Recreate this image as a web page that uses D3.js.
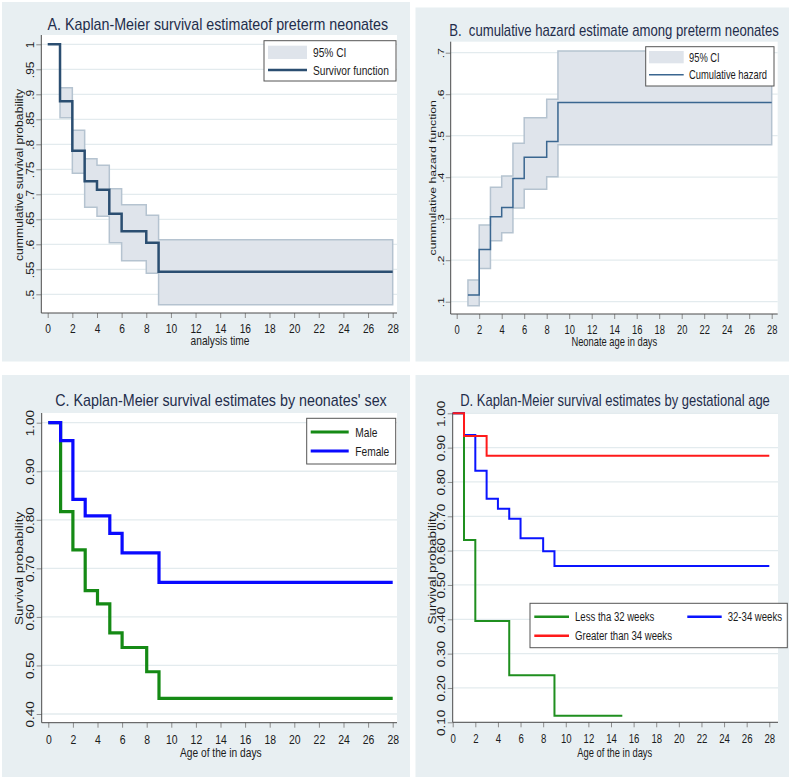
<!DOCTYPE html>
<html><head><meta charset="utf-8">
<script src="https://cdn.jsdelivr.net/npm/d3@7"></script>
<style>body{margin:0;background:#fff} text{font-family:"Liberation Sans",Arial,sans-serif}</style>
</head><body><svg id="c" width="789" height="779"></svg>
<script>
// ---------- data ----------
const xTicks = [0,2,4,6,8,10,12,14,16,18,20,22,24,26,28];

// Panel A: Kaplan-Meier overall
const aTimes = [0,1,2,3,4,5,6,8,9];
const aSurv  = [1.000,0.886,0.787,0.726,0.709,0.661,0.626,0.603,0.545];
const aCiTimes = [1,2,3,4,5,6,8,9];
const aCiUpper = [0.913,0.828,0.771,0.758,0.711,0.679,0.658,0.609];
const aCiLower = [0.853,0.742,0.674,0.656,0.603,0.567,0.542,0.479];
const aYTicks  = [0.5,0.55,0.6,0.65,0.7,0.75,0.8,0.85,0.9,0.95,1];
const aYLabels = [".5",".55",".6",".65",".7",".75",".8",".85",".9",".95","1"];

// Panel B: cumulative hazard
const bTimes = [1,2,3,4,5,6,8,9];
const bHaz   = [0.116,0.226,0.305,0.327,0.397,0.448,0.486,0.580];
const bUpper = [0.152,0.285,0.376,0.403,0.482,0.543,0.588,0.704];
const bLower = [0.090,0.180,0.247,0.266,0.326,0.371,0.401,0.478];
const bYTicks  = [0.1,0.2,0.3,0.4,0.5,0.6,0.7];
const bYLabels = [".1",".2",".3",".4",".5",".6",".7"];

// Panel C: by sex
const maleTimes   = [0,1,2,3,4,5,6,8,9];
const maleSurv    = [1.000,0.817,0.738,0.654,0.627,0.567,0.537,0.487,0.432];
const femaleTimes = [0,1,2,3,5,6,9];
const femaleSurv  = [1.000,0.963,0.842,0.808,0.772,0.732,0.671];
const cYTicks  = [0.4,0.5,0.6,0.7,0.8,0.9,1.0];
const cYLabels = ["0.40","0.50","0.60","0.70","0.80","0.90","1.00"];

// Panel D: by gestational age
const lt32Times = [0,1,2,5,9];
const lt32Surv  = [1.000,0.631,0.395,0.237,0.119];
const lt32End   = 15;
const midTimes  = [0,1,2,3,4,5,6,8,9];
const midSurv   = [1.000,0.937,0.833,0.751,0.722,0.693,0.636,0.598,0.555];
const gt34Times = [0,1,3];
const gt34Surv  = [1.000,0.934,0.876];
const dYTicks  = [0.1,0.2,0.3,0.4,0.5,0.6,0.7,0.8,0.9,1.0];
const dYLabels = ["0.10","0.20","0.30","0.40","0.50","0.60","0.70","0.80","0.90","1.00"];

// ---------- style ----------
const PANEL_BG = "#e8eff2", GRID = "#e3ebee", AXIS = "#4a4a4a", TICK = "#8c8c8c";
const TXT = "#1b1b1b", TITLE = "#1f2d4b";
const CI_FILL = "#dfe4eb", CI_STROKE = "#b5c3d0";

const svg = d3.select("#c");

function stepPts(times, vals, end){
  const p = times.map((t,i)=>[t, vals[i]]);
  p.push([end, vals[vals.length-1]]);
  return p;
}
function sText(g, x, y, s, k, size, anchor, rot){
  return g.append("text")
    .attr("transform", `translate(${x},${y}) scale(${k},1)${rot?" rotate(-90)":""}`)
    .attr("text-anchor", anchor || "start")
    .style("font-size", size + "px")
    .style("white-space","pre")
    .attr("fill", TXT).text(s);
}
function fitTitle(g, cx, by, s, len){
  const t = g.append("text").attr("text-anchor","middle")
    .style("font-size","16px").style("white-space","pre").attr("fill",TITLE).text(s);
  const w = t.node().getComputedTextLength();
  t.attr("transform", `translate(${cx},${by}) scale(${len/w},1)`);
  return t;
}

function panel(cfg){
  const g = svg.append("g");
  const [bx0,by0,bx1,by1] = cfg.bg;
  g.append("rect").attr("x",bx0).attr("y",by0).attr("width",bx1-bx0).attr("height",by1-by0).attr("fill",PANEL_BG);
  const {l,t,r,b} = cfg.plot;
  g.append("rect").attr("x",l).attr("y",t).attr("width",r-l).attr("height",b-t).attr("fill","#fff");
  const x = d3.scaleLinear().domain([0,28]).range(cfg.xr);
  const y = d3.scaleLinear().domain(cfg.yd).range(cfg.yr);
  // grid
  g.append("g").selectAll("line").data(cfg.yTicks).join("line")
    .attr("x1",l).attr("x2",r).attr("y1",d=>y(d)).attr("y2",d=>y(d))
    .attr("stroke",GRID).attr("stroke-width",1.3);
  // x axis
  const gx = g.append("g").attr("transform",`translate(0,${b})`)
    .call(d3.axisBottom(x).tickValues(xTicks).tickSize(5).tickSizeOuter(0));
  gx.select(".domain").remove();
  gx.selectAll("line").attr("stroke",TICK);
  gx.selectAll("text").attr("y",0).attr("dy",0)
    .attr("transform",`translate(0,${cfg.xLabY-b}) scale(${cfg.k},1)`)
    .style("font-size",cfg.xFont+"px").style("font-family",'"Liberation Sans",Arial,sans-serif').attr("fill",TXT);
  // y axis
  const gy = g.append("g").attr("transform",`translate(${l},0)`)
    .call(d3.axisLeft(y).tickValues(cfg.yTicks).tickFormat(d=>cfg.yLabels[cfg.yTicks.indexOf(d)]).tickSize(5).tickSizeOuter(0));
  gy.select(".domain").remove();
  gy.selectAll("line").attr("stroke",TICK);
  gy.selectAll("text").attr("x",0).attr("dy",0).attr("text-anchor","middle")
    .attr("transform",`translate(${cfg.yLabX-l},0) scale(${cfg.k},1) rotate(-90)`)
    .style("font-size",cfg.yFont+"px").style("font-family",'"Liberation Sans",Arial,sans-serif').attr("fill",TXT);
  // frame lines
  g.append("line").attr("x1",l).attr("x2",l).attr("y1",t).attr("y2",b).attr("stroke",AXIS).attr("stroke-width",1);
  g.append("line").attr("x1",l).attr("x2",r).attr("y1",b).attr("y2",b).attr("stroke",AXIS).attr("stroke-width",1);
  // titles
  fitTitle(g, cfg.title.cx, cfg.title.by, cfg.title.text, cfg.title.len);
  sText(g, cfg.xTitle.cx, cfg.xTitle.by, cfg.xTitle.text, cfg.k, 12, "middle");
  sText(g, cfg.yTitle.bx, cfg.yTitle.cy, cfg.yTitle.text, cfg.k, cfg.yTitle.size, "middle", true);
  return {g,x,y};
}

const lineStep = (x,y) => d3.line().x(d=>x(d[0])).y(d=>y(d[1])).curve(d3.curveStepAfter);

// ---------- Panel A ----------
{
  const {g,x,y} = panel({
    bg:[2,2,410,361.5], plot:{l:41.3,t:35,r:397,b:313},
    xr:[47.7,392.7], yd:[0.5,1], yr:[294.3,44.3], k:0.85,
    yTicks:aYTicks, yLabels:aYLabels, xLabY:332.5, yLabX:33.5, xFont:12, yFont:12,
    title:{text:"A. Kaplan-Meier survival estimateof preterm neonates", cx:217.8, by:30, len:341},
    xTitle:{text:"analysis time", cx:220, by:344.5},
    yTitle:{text:"cummulative survival probability", cy:175, bx:23, size:12.2}
  });
  const ci = aCiTimes.map((t,i)=>({t, lo:aCiLower[i], hi:aCiUpper[i]}));
  ci.push({t:28, lo:aCiLower[aCiLower.length-1], hi:aCiUpper[aCiUpper.length-1]});
  g.append("path").datum(ci)
    .attr("d", d3.area().x(d=>x(d.t)).y0(d=>y(d.lo)).y1(d=>y(d.hi)).curve(d3.curveStepAfter))
    .attr("fill",CI_FILL).attr("stroke",CI_STROKE).attr("stroke-width",1.5);
  g.append("path").datum(stepPts(aTimes,aSurv,28)).attr("d",lineStep(x,y))
    .attr("fill","none").attr("stroke","#2b4e71").attr("stroke-width",2.5);
  // legend
  const lg = g.append("g");
  lg.append("rect").attr("x",264).attr("y",40.7).attr("width",132).attr("height",40.3).attr("fill","#fff").attr("stroke","#555").attr("stroke-width",1);
  lg.append("rect").attr("x",268).attr("y",45.7).attr("width",39).attr("height",13.3).attr("fill",CI_FILL);
  sText(lg,313,56.5,"95% CI",0.85,12,"start");
  lg.append("line").attr("x1",268).attr("x2",307).attr("y1",70).attr("y2",70).attr("stroke","#2b4e71").attr("stroke-width",2.5);
  sText(lg,313,74.5,"Survivor function",0.85,12,"start");
}

// ---------- Panel B ----------
{
  const {g,x,y} = panel({
    bg:[415.5,7.5,789,361.5], plot:{l:450.7,t:41.7,r:777.7,b:314},
    xr:[456.7,771.7], yd:[0.1,0.7], yr:[301.7,52.7], k:0.78,
    yTicks:bYTicks, yLabels:bYLabels, xLabY:333.5, yLabX:443.5, xFont:12, yFont:12,
    title:{text:"B.  cumulative hazard estimate among preterm neonates", cx:614, by:35.5, len:330},
    xTitle:{text:"Neonate age in days", cx:614.3, by:345.5},
    yTitle:{text:"cummulative hazard function", cy:177.8, bx:436, size:12.2}
  });
  const ci = bTimes.map((t,i)=>({t, lo:bLower[i], hi:bUpper[i]}));
  ci.push({t:28, lo:bLower[bLower.length-1], hi:bUpper[bUpper.length-1]});
  g.append("path").datum(ci)
    .attr("d", d3.area().x(d=>x(d.t)).y0(d=>y(d.lo)).y1(d=>y(d.hi)).curve(d3.curveStepAfter))
    .attr("fill",CI_FILL).attr("stroke",CI_STROKE).attr("stroke-width",1.5);
  g.append("path").datum(stepPts(bTimes,bHaz,28)).attr("d",lineStep(x,y))
    .attr("fill","none").attr("stroke","#3a6690").attr("stroke-width",1.5);
  const lg = g.append("g");
  lg.append("rect").attr("x",645.7).attr("y",46.7).attr("width",128.3).attr("height",39.3).attr("fill","#fff").attr("stroke","#555").attr("stroke-width",1);
  lg.append("rect").attr("x",649).attr("y",51).attr("width",34.7).attr("height",12.3).attr("fill",CI_FILL);
  sText(lg,689,62,"95% CI",0.78,12,"start");
  lg.append("line").attr("x1",649).attr("x2",683.7).attr("y1",74.7).attr("y2",74.7).attr("stroke","#3a6690").attr("stroke-width",1.5);
  sText(lg,689,79,"Cumulative hazard",0.78,12,"start");
}

// ---------- Panel C ----------
{
  const {g,x,y} = panel({
    bg:[2,375,410,777], plot:{l:41.7,t:413,r:397,b:722.7},
    xr:[48.3,392.7], yd:[0.4,1], yr:[714,422.7], k:0.85,
    yTicks:cYTicks, yLabels:cYLabels, xLabY:744.3, yLabX:33.5, xFont:12.3, yFont:13.5,
    title:{text:"C. Kaplan-Meier survival estimates by neonates' sex", cx:221, by:406, len:332},
    xTitle:{text:"Age of the in days", cx:220.8, by:757},
    yTitle:{text:"Survival probability", cy:568.3, bx:23, size:13.5}
  });
  g.append("path").datum(stepPts(maleTimes,maleSurv,28)).attr("d",lineStep(x,y))
    .attr("fill","none").attr("stroke","#158a15").attr("stroke-width",3.2);
  g.append("path").datum(stepPts(femaleTimes,femaleSurv,28)).attr("d",lineStep(x,y))
    .attr("fill","none").attr("stroke","#0a0aff").attr("stroke-width",3.2);
  const lg = g.append("g");
  lg.append("rect").attr("x",306.7).attr("y",418.3).attr("width",89).attr("height",45.7).attr("fill","#fff").attr("stroke","#555").attr("stroke-width",1);
  lg.append("line").attr("x1",310.7).attr("x2",348.7).attr("y1",432).attr("y2",432).attr("stroke","#158a15").attr("stroke-width",3.2);
  sText(lg,355.3,436.5,"Male",0.85,12,"start");
  lg.append("line").attr("x1",310.7).attr("x2",348.7).attr("y1",451).attr("y2",451).attr("stroke","#0a0aff").attr("stroke-width",3.2);
  sText(lg,355.3,455.5,"Female",0.85,12,"start");
}

// ---------- Panel D ----------
{
  const {g,x,y} = panel({
    bg:[415.5,375,789,777], plot:{l:452.7,t:413,r:778,b:722.3},
    xr:[452.7,769.3], yd:[0.1,1], yr:[722.3,413.3], k:0.78,
    yTicks:dYTicks, yLabels:dYLabels, xLabY:743.3, yLabX:445, xFont:12.3, yFont:13.5,
    title:{text:"D. Kaplan-Meier survival estimates by gestational age", cx:615, by:406, len:310},
    xTitle:{text:"Age of the in days", cx:614.8, by:756.5},
    yTitle:{text:"Survival probability", cy:568, bx:436, size:13.5}
  });
  g.append("path").datum(stepPts(lt32Times,lt32Surv,lt32End)).attr("d",lineStep(x,y))
    .attr("fill","none").attr("stroke","#1f8f1f").attr("stroke-width",2);
  g.append("path").datum(stepPts(midTimes,midSurv,28)).attr("d",lineStep(x,y))
    .attr("fill","none").attr("stroke","#0a14ff").attr("stroke-width",2);
  g.append("path").datum(stepPts(gt34Times,gt34Surv,28)).attr("d",lineStep(x,y))
    .attr("fill","none").attr("stroke","#ff1a1a").attr("stroke-width",2);
  const lg = g.append("g");
  lg.append("rect").attr("x",530).attr("y",603.3).attr("width",257.3).attr("height",44.4).attr("fill","#fff").attr("stroke","#555").attr("stroke-width",1);
  lg.append("line").attr("x1",534.3).attr("x2",569).attr("y1",616.7).attr("y2",616.7).attr("stroke","#1f8f1f").attr("stroke-width",2.5);
  sText(lg,575,621,"Less tha 32 weeks",0.78,12.3,"start");
  lg.append("line").attr("x1",687.3).attr("x2",721.7).attr("y1",616.7).attr("y2",616.7).attr("stroke","#0a14ff").attr("stroke-width",2.5);
  sText(lg,727.7,621,"32-34 weeks",0.78,12.3,"start");
  lg.append("line").attr("x1",534.3).attr("x2",569).attr("y1",635.7).attr("y2",635.7).attr("stroke","#ff1a1a").attr("stroke-width",2.5);
  sText(lg,575,640,"Greater than 34 weeks",0.78,12.3,"start");
}
</script></body></html>
